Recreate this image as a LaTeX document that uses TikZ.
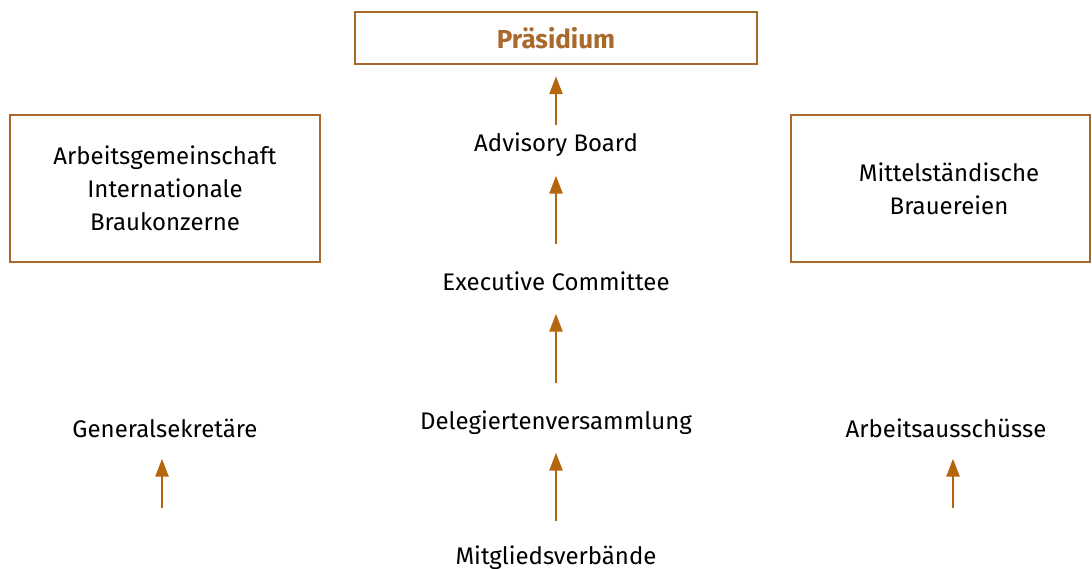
\documentclass[tikz,border=0pt]{standalone}
\usepackage{fontspec}
\setmainfont{Fira Sans}
\usepackage{xcolor}
\usetikzlibrary{arrows.meta}
\definecolor{dbrown}{HTML}{A8692A}
\definecolor{abrown}{HTML}{B5660C}
\colorlet{boxcolor}{dbrown}
\tikzstyle{lbl}=[font=\fontsize{24}{33}\selectfont,align=center,inner sep=0pt,text height=17pt,text depth=6pt]
\tikzstyle{orgbox}=[lbl,draw=boxcolor,line width=2.5pt,text height=,text depth=]
\tikzstyle{up}=[draw=abrown,line width=2.6pt,-{Triangle[length=18pt,width=13pt]}]

\begin{document}
\begin{tikzpicture}[x=1pt,y=-1pt]
	\useasboundingbox (0,0) rectangle (1092,569);
	% boxes
	\node[orgbox,minimum width=402pt,minimum height=52pt,text=dbrown,font=\fontsize{26}{33}\selectfont\bfseries] (praes) at (556,38) {Präsidium};
	\node[orgbox,minimum width=310pt,minimum height=147pt,text depth=-4pt] (aig) at (165,188.5) {Arbeitsgemeinschaft\\Internationale\\Braukonzerne};
	\node[orgbox,minimum width=299pt,minimum height=147pt,text depth=-5pt] (mittel) at (940.5,188.5) {Mittelständische\hspace*{-17pt}\\Brauereien\hspace*{-17pt}};
	% texts
	\node[lbl] (adv) at (556,146) {Advisory Board};
	\node[lbl] (exec) at (556,285) {Executive Committee};
	\node[lbl] (deleg) at (556,424) {Delegiertenversammlung};
	\node[lbl] (mitgl) at (556,559) {Mitgliedsverbände};
	\node[lbl] (gensek) at (165,432) {Generalsekretäre};
	\node[lbl] (aussch) at (946,432) {Arbeitsausschüsse};
	% arrows
	\coordinate (gs) at (162,508);
	\coordinate (as) at (953,508);
	\draw[up,shorten <=9pt,shorten >=11pt] (adv.north) -- (praes.south);
	\draw[up,shorten <=29pt,shorten >=18pt] (exec.north) -- (adv.south);
	\draw[up,shorten <=29pt,shorten >=17pt] (deleg.north) -- (exec.south);
	\draw[up,shorten <=26pt,shorten >=17pt] (mitgl.north) -- (deleg.south);
	\draw[up,shorten >=15pt] (gs) -- (gs |- gensek.south);
	\draw[up,shorten >=15pt] (as) -- (as |- aussch.south);
\end{tikzpicture}
\end{document}
